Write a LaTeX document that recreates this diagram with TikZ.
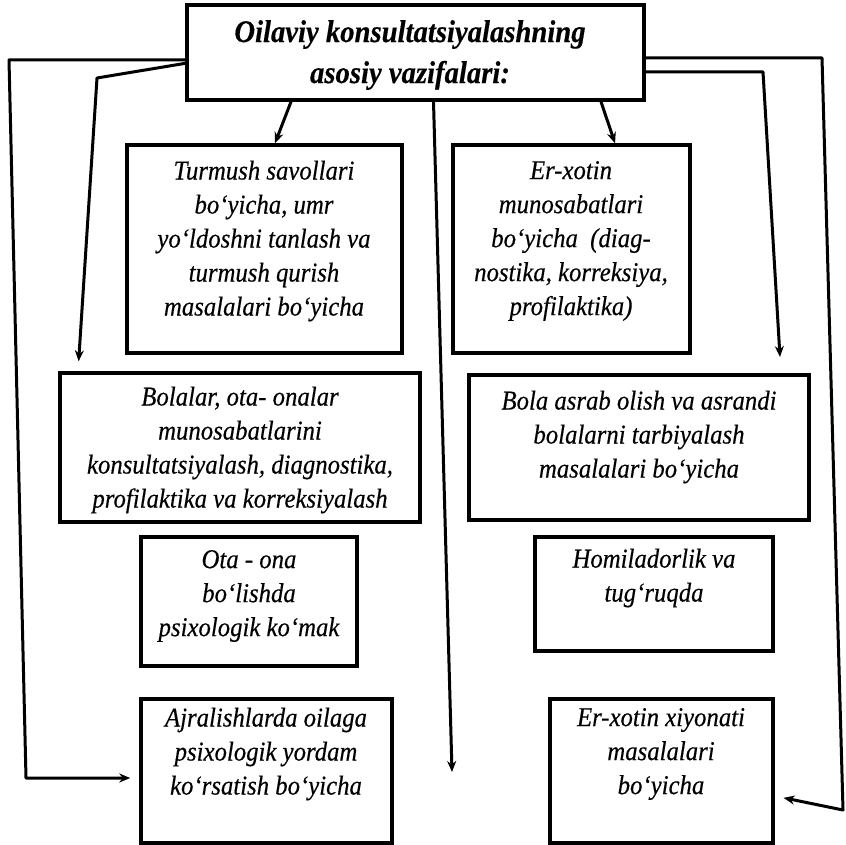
\documentclass[tikz,border=0pt]{standalone}
\usepackage{fontspec}
\setmainfont{Liberation Serif}[FakeStretch=0.91, FakeBold=0.35]
\usetikzlibrary{arrows.meta,calc}
\begin{document}
\begin{tikzpicture}[x=1pt,y=-1pt,
  box/.style={draw, line width=3.5pt, inner sep=0pt},
  txt/.style={align=center, inner sep=0pt, font=\fontsize{27.2}{34}\selectfont\itshape},
  ttl/.style={align=center, inner sep=0pt, font=\fontsize{31.5}{41}\selectfont\bfseries\itshape},
  conn/.style={line width=3pt, line join=round},
  arr/.style={conn, -{Stealth[length=11pt,width=9pt]}}]
\fill[white] (0,0) rectangle (845,845);
\useasboundingbox (0,0) rectangle (845,845);
% boxes
\node[box, minimum width=457pt, minimum height=95pt] (T) at (415.5,52.5) {};
\node[box, minimum width=275pt, minimum height=208pt] (B1) at (264.5,249) {};
\node[box, minimum width=237pt, minimum height=208pt] (B2) at (571.5,249) {};
\node[box, minimum width=360pt, minimum height=149pt] (B3) at (240,447.5) {};
\node[box, minimum width=340pt, minimum height=145pt] (B4) at (639,447.5) {};
\node[box, minimum width=216pt, minimum height=129pt] (B5) at (249,601.5) {};
\node[box, minimum width=238pt, minimum height=114pt] (B6) at (654,594) {};
\node[box, minimum width=251pt, minimum height=144pt] (B7) at (266.5,771) {};
\node[box, minimum width=223pt, minimum height=144pt] (B8) at (661.5,771) {};
% texts
\node[ttl] (tT) at (410,55) {Oilaviy konsultatsiyalashning\\asosiy vazifalari:};
\node[txt] (t1) at (264,241) {Turmush savollari\\bo‘yicha, umr\\yo‘ldoshni tanlash va\\turmush qurish\\masalalari bo‘yicha};
\node[txt] (t2) at (571,241) {Er-xotin\\munosabatlari\\bo‘yicha\ \ (diag-\\nostika, korreksiya,\\profilaktika)};
\node[txt] (t3) at (240,450) {Bolalar, ota- onalar\\munosabatlarini\\konsultatsiyalash, diagnostika,\\profilaktika va korreksiyalash};
\node[txt] (t4) at (639,437) {Bola asrab olish va asrandi\\bolalarni tarbiyalash\\masalalari bo‘yicha};
\node[txt] (t5) at (249,596) {Ota - ona\\bo‘lishda\\psixologik ko‘mak};
\node[txt] (t6) at (654,578) {Homiladorlik va\\tug‘ruqda};
\node[txt] (t7) at (266,754) {Ajralishlarda oilaga\\psixologik yordam\\ko‘rsatish bo‘yicha};
\node[txt] (t8) at (661,754) {Er-xotin xiyonati\\masalalari\\bo‘yicha};
% coordinates
\coordinate (L1) at (9,60);
\coordinate (L2) at (26,778);
\coordinate (L3) at (97,78);
\coordinate (L4) at (78,0);
\coordinate (M) at (452,772);
\coordinate (R1) at (763,72);
\coordinate (R2) at (780,357);
\coordinate (R3) at (822,58);
\coordinate (R4) at (843,810);
\coordinate (R5) at (0,796);
% connectors
\draw[arr, shorten >=9pt] (T.west |- L1) -- (L1) -- (L2) -- (B7.west |- L2);
\draw[arr, shorten >=10pt] ($(T.west)+(2,10.5)$) -- (L3) -- (L4 |- B3.north);
\draw[arr] ($(T.south)+(-124.5,0)$) -- ($(B1.north)+(10.5,0)$);
\draw[arr] ($(T.south)+(185.5,0)$) -- ($(B2.north)+(43.5,0)$);
\draw[arr] ($(T.south)+(18,0)$) -- (M);
\draw[arr] (T.east |- R1) -- (R1) -- (R2);
\draw[arr, shorten >=9pt] (T.east |- R3) -- (R3) -- (R4) -- (B8.east |- R5);
\end{tikzpicture}
\end{document}
